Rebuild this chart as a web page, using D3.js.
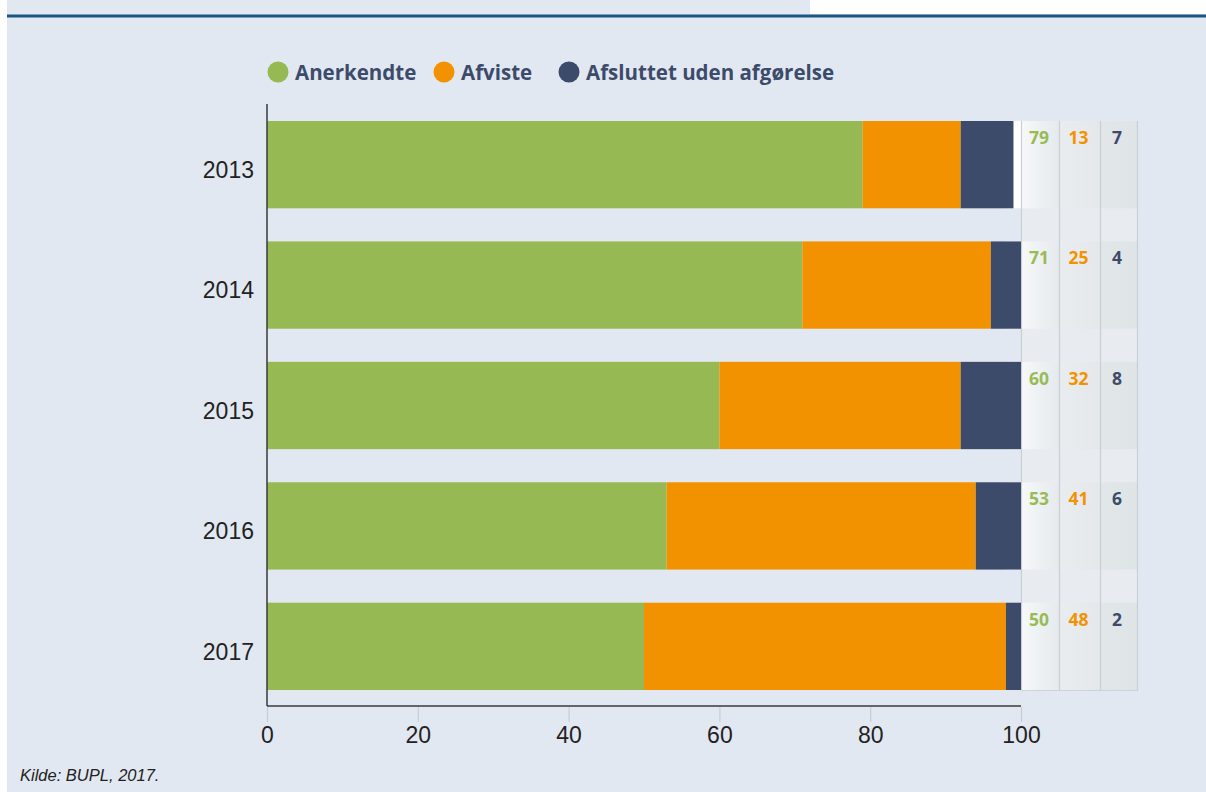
<!DOCTYPE html>
<html><head><meta charset="utf-8">
<script src="https://cdn.jsdelivr.net/npm/d3@7"></script>
<style>
html,body{margin:0;padding:0;background:#fff;}
svg{display:block;}
</style></head>
<body>
<svg id="chart" width="1206" height="792"></svg>
<script>
const years = ["2013","2014","2015","2016","2017"];
const anerkendte = [79,71,60,53,50];
const afviste = [13,25,32,41,48];
const afsluttet = [7,4,8,6,2];
const seriesNames = ["Anerkendte","Afviste","Afsluttet uden afgørelse"];
const seriesColors = ["#97b954","#f39200","#3d4b6b"];
const textColors = ["#98bb55","#f39200","#3d4b6b"];
const xTicks = [0,20,40,60,80,100];

const svg = d3.select("#chart");
const W = 1206, H = 792;
svg.append("rect").attr("x",7).attr("y",0).attr("width",W-7).attr("height",H).attr("fill","#e1e8f1");
svg.append("rect").attr("x",810).attr("y",0).attr("width",W-810).attr("height",14).attr("fill","#ffffff");
svg.append("rect").attr("x",7).attr("y",14.5).attr("width",W-7).attr("height",3).attr("fill","#1b5685");

const x = d3.scaleLinear().domain([0,100]).range([267,1021]);
const y = d3.scaleBand().domain(years).range([121-16.5,690+16.5]).paddingInner(0.275).paddingOuter(0.137);
const data = years.map((yr,i)=>({year:yr, a:anerkendte[i], b:afviste[i], c:afsluttet[i]}));
const stack = d3.stack().keys(["a","b","c"])(data);

const colEdges = [1021,1059,1100,1137];
const tableTop = 121, tableBottom = 690;
const defs = svg.append("defs");
const g1 = defs.append("linearGradient").attr("id","col1");
g1.append("stop").attr("offset","0%").attr("stop-color","#f6f8f9");
g1.append("stop").attr("offset","100%").attr("stop-color","#e6eaed");
const g2 = defs.append("linearGradient").attr("id","col2");
g2.append("stop").attr("offset","0%").attr("stop-color","#eaedef");
g2.append("stop").attr("offset","100%").attr("stop-color","#e4e8ea");
const g3 = defs.append("linearGradient").attr("id","col3");
g3.append("stop").attr("offset","0%").attr("stop-color","#e1e6e9");
g3.append("stop").attr("offset","100%").attr("stop-color","#dfe4e7");
const fills = ["url(#col1)","url(#col2)","url(#col3)"];

svg.append("rect").attr("x",colEdges[0]).attr("y",tableTop).attr("width",colEdges[3]-colEdges[0]).attr("height",tableBottom-tableTop).attr("fill","#e8ecf1");

years.forEach((yr)=>{
  for(let k=0;k<3;k++){
    svg.append("rect").attr("x",colEdges[k]).attr("y",y(yr)).attr("width",colEdges[k+1]-colEdges[k]).attr("height",y.bandwidth()).attr("fill",fills[k]);
  }
  svg.append("rect").attr("x",x(98)).attr("y",y(yr)).attr("width",x(100)-x(98)).attr("height",y.bandwidth()).attr("fill","#ffffff");
});
colEdges.forEach(cx=>{
  svg.append("line").attr("x1",cx+0.5).attr("x2",cx+0.5).attr("y1",tableTop).attr("y2",tableBottom).attr("stroke","#c9d0d5").attr("stroke-width",1.2);
});
svg.append("line").attr("x1",colEdges[0]).attr("x2",colEdges[3]+1).attr("y1",tableBottom+0.5).attr("y2",tableBottom+0.5).attr("stroke","#cdd3d8").attr("stroke-width",1);

stack.forEach((s,k)=>{
  svg.append("g").selectAll("rect").data(s).join("rect")
    .attr("x",d=>x(d[0]))
    .attr("y",d=>y(d.data.year))
    .attr("width",d=>x(d[1])-x(d[0]))
    .attr("height",y.bandwidth())
    .attr("fill",seriesColors[k]);
});

const vals = [anerkendte,afviste,afsluttet];
const colCenters = [1039,1078.5,1117];
years.forEach((yr,i)=>{
  for(let k=0;k<3;k++){
    svg.append("text").attr("x",colCenters[k]).attr("y",y(yr)+23)
      .attr("text-anchor","middle").attr("font-family","'Open Sans',sans-serif").attr("font-weight",700)
      .attr("font-size",17.5).attr("fill",textColors[k]).text(vals[k][i]);
  }
});

const axisY = 706;
svg.append("line").attr("x1",267).attr("x2",1021).attr("y1",axisY).attr("y2",axisY).attr("stroke","#3a3a3a").attr("stroke-width",1.5);
svg.append("line").attr("x1",267).attr("x2",267).attr("y1",104).attr("y2",axisY).attr("stroke","#3a3a3a").attr("stroke-width",1.5);
const xAxis = svg.append("g").attr("transform",`translate(0,${axisY+1})`)
  .call(d3.axisBottom(x).tickValues(xTicks).tickSize(15).tickPadding(5).tickFormat(d3.format("d")));
xAxis.select(".domain").remove();
xAxis.selectAll(".tick line").attr("stroke","#c8cdd2").attr("stroke-width",1.2);
xAxis.selectAll(".tick text").attr("font-family","'Liberation Sans',Arial,sans-serif").attr("font-size",23).attr("fill","#222");

const yAxis = svg.append("g").attr("transform","translate(254,5)")
  .call(d3.axisLeft(y).tickSize(0).tickPadding(0));
yAxis.select(".domain").remove();
yAxis.selectAll(".tick text").attr("font-family","'Liberation Sans',Arial,sans-serif").attr("font-size",23).attr("fill","#222").attr("dy","0.36em");

const legend = svg.append("g");
const legendX = [278,444,569];
seriesNames.forEach((n,k)=>{
  legend.append("circle").attr("cx",legendX[k]).attr("cy",72).attr("r",10.5).attr("fill",seriesColors[k]);
  legend.append("text").attr("x",legendX[k]+17).attr("y",79.5).attr("font-family","'Open Sans',sans-serif")
    .attr("font-weight",700).attr("font-size",20.5).attr("fill","#3d4b6b").text(n);
});

svg.append("text").attr("x",20).attr("y",781).attr("font-family","'Liberation Sans',Arial,sans-serif")
  .attr("font-style","italic").attr("font-size",16.5).attr("fill","#222").text("Kilde: BUPL, 2017.");
</script>
</body></html>
